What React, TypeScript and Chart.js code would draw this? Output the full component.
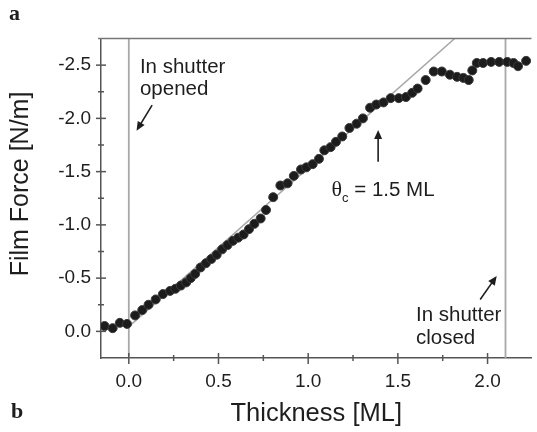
import React, { useEffect, useRef } from "react";
import { Chart, registerables } from "chart.js";

Chart.register(...registerables);

// ---- data ----
const thicknessML = [
  -0.135, -0.09, -0.05, -0.01, 0.035, 0.075, 0.11, 0.15, 0.19, 0.23, 0.26, 0.29,
  0.32, 0.345, 0.37, 0.4, 0.43, 0.46, 0.49, 0.52, 0.55, 0.58, 0.61, 0.64, 0.67,
  0.7, 0.735, 0.765, 0.805, 0.845, 0.885, 0.92, 0.96, 0.99, 1.025, 1.06, 1.09,
  1.125, 1.155, 1.19, 1.23, 1.27, 1.305, 1.345, 1.38, 1.42, 1.46, 1.505, 1.545,
  1.58, 1.61, 1.655, 1.7, 1.745, 1.79, 1.83, 1.865, 1.895, 1.915, 1.94, 1.975,
  2.02, 2.065, 2.11, 2.145, 2.17, 2.215,
];
const filmForce = [
  -0.05, -0.03, -0.08, -0.07, -0.15, -0.2, -0.25, -0.3, -0.35, -0.38, -0.4, -0.43,
  -0.46, -0.5, -0.54, -0.6, -0.64, -0.68, -0.72, -0.77, -0.81, -0.85, -0.88, -0.91,
  -0.96, -1.01, -1.06, -1.14, -1.26, -1.37, -1.39, -1.46, -1.52, -1.54, -1.57,
  -1.62, -1.7, -1.73, -1.78, -1.83, -1.91, -1.95, -2.0, -2.1, -2.13, -2.15, -2.19,
  -2.19, -2.2, -2.24, -2.28, -2.36, -2.44, -2.44, -2.41, -2.39, -2.38, -2.36,
  -2.45, -2.52, -2.52, -2.53, -2.53, -2.53, -2.52, -2.49, -2.54,
];
const fitX = [0, 1.83];
const fitY = [-0.045, -2.77];
const shutterOpenX = 0;
const shutterCloseX = 2.1;

const xRange = [-0.155, 2.245];
const yRange = [-2.75, 0.25];
const xTicks = [0, 0.5, 1.0, 1.5, 2.0];
const xMinorTicks = [0.25, 0.75, 1.25, 1.75];
const yTicks = [0, -0.5, -1.0, -1.5, -2.0, -2.5];
const yMinorTicks = [-0.25, -0.75, -1.25, -1.75, -2.25];

const xTitle = "Thickness [ML]";
const yTitle = "Film Force [N/m]";

// annotation anchors in data units
const openedText = { x: 0.062, y1: -2.43, y2: -2.215, l1: "In shutter", l2: "opened" };
const openedArrow = { x0: 0.13, y0: -2.125, x1: 0.043, y1: -1.884 };
const closedText = { x: 1.601, y1: -0.1, y2: 0.118, l1: "In shutter", l2: "closed" };
const closedArrow = { x0: 1.959, y0: -0.3, x1: 2.051, y1: -0.52 };
const thetaText = { x: 1.13, y: -1.27 };
const thetaArrow = { x0: 1.39, y0: -1.593, x1: 1.39, y1: -1.891 };

const SANS = "'Liberation Sans', Arial, Helvetica, sans-serif";
const SERIF = "'Liberation Serif', 'Times New Roman', serif";
const TEXT = "#1e1e1e";
const AXIS = "#555555";
const GRAYLINE = "#a8a8a8";

function drawArrow(ctx: CanvasRenderingContext2D, x0: number, y0: number, x1: number, y1: number) {
  const ang = Math.atan2(y1 - y0, x1 - x0);
  const head = 9;
  const half = 4;
  ctx.beginPath();
  ctx.moveTo(x0, y0);
  ctx.lineTo(x1 - Math.cos(ang) * head * 0.8, y1 - Math.sin(ang) * head * 0.8);
  ctx.stroke();
  ctx.beginPath();
  ctx.moveTo(x1, y1);
  ctx.lineTo(
    x1 - Math.cos(ang) * head + Math.cos(ang + Math.PI / 2) * half,
    y1 - Math.sin(ang) * head + Math.sin(ang + Math.PI / 2) * half
  );
  ctx.lineTo(
    x1 - Math.cos(ang) * head - Math.cos(ang + Math.PI / 2) * half,
    y1 - Math.sin(ang) * head - Math.sin(ang + Math.PI / 2) * half
  );
  ctx.closePath();
  ctx.fill();
}

const decorPlugin = {
  id: "decor",
  afterDraw(chart: any) {
    const { ctx, chartArea } = chart;
    const xs = chart.scales.x;
    const ys = chart.scales.y;
    const X = (v: number) => xs.getPixelForValue(v);
    const Y = (v: number) => ys.getPixelForValue(v);
    ctx.save();
    // top frame line
    ctx.strokeStyle = "#777777";
    ctx.lineWidth = 1.5;
    ctx.beginPath();
    ctx.moveTo(chartArea.left - 3, chartArea.top);
    ctx.lineTo(chartArea.right, chartArea.top);
    ctx.stroke();
    // crossing ticks
    ctx.strokeStyle = AXIS;
    ctx.lineWidth = 1.5;
    const b = chartArea.bottom;
    const l = chartArea.left;
    xTicks.forEach((v) => {
      const p = X(v);
      ctx.beginPath();
      ctx.moveTo(p, b - 5);
      ctx.lineTo(p, b + 6);
      ctx.stroke();
    });
    xMinorTicks.forEach((v) => {
      const p = X(v);
      ctx.beginPath();
      ctx.moveTo(p, b - 3);
      ctx.lineTo(p, b + 3);
      ctx.stroke();
    });
    yTicks.forEach((v) => {
      const p = Y(v);
      ctx.beginPath();
      ctx.moveTo(l - 5, p);
      ctx.lineTo(l + 5, p);
      ctx.stroke();
    });
    yMinorTicks.forEach((v) => {
      const p = Y(v);
      ctx.beginPath();
      ctx.moveTo(l - 3, p);
      ctx.lineTo(l + 3, p);
      ctx.stroke();
    });

    // y axis title
    ctx.fillStyle = TEXT;
    ctx.save();
    ctx.translate(27.5, 184);
    ctx.rotate(-Math.PI / 2);
    ctx.textAlign = "center";
    ctx.textBaseline = "alphabetic";
    ctx.font = `25px ${SANS}`;
    ctx.fillText(yTitle, 0, 0);
    ctx.restore();

    // annotations
    ctx.fillStyle = TEXT;
    ctx.strokeStyle = TEXT;
    ctx.lineWidth = 1.6;
    ctx.textBaseline = "alphabetic";
    ctx.textAlign = "left";
    ctx.font = `20.5px ${SANS}`;
    ctx.fillText(openedText.l1, X(openedText.x), Y(openedText.y1));
    ctx.fillText(openedText.l2, X(openedText.x), Y(openedText.y2));
    ctx.fillText(closedText.l1, X(closedText.x), Y(closedText.y1));
    ctx.fillText(closedText.l2, X(closedText.x), Y(closedText.y2));
    drawArrow(ctx, X(openedArrow.x0), Y(openedArrow.y0), X(openedArrow.x1), Y(openedArrow.y1));
    drawArrow(ctx, X(closedArrow.x0), Y(closedArrow.y0), X(closedArrow.x1), Y(closedArrow.y1));
    drawArrow(ctx, X(thetaArrow.x0), Y(thetaArrow.y0), X(thetaArrow.x1), Y(thetaArrow.y1));

    // theta_c = 1.5 ML
    let tx = X(thetaText.x);
    const ty = Y(thetaText.y);
    ctx.font = `22px ${SERIF}`;
    ctx.fillText("θ", tx, ty);
    tx += ctx.measureText("θ").width;
    ctx.font = `13px ${SANS}`;
    ctx.fillText("c", tx, ty + 6);
    tx += ctx.measureText("c").width;
    ctx.font = `20.5px ${SANS}`;
    ctx.fillText(" = 1.5 ML", tx, ty);

    // panel letters
    ctx.font = `bold 22px ${SERIF}`;
    ctx.fillText("a", 9, 20);
    ctx.fillText("b", 11, 418);
    ctx.restore();
  },
};

export default function App() {
  const ref = useRef<HTMLCanvasElement | null>(null);
  useEffect(() => {
    document.body.style.margin = "0";
    const canvas = ref.current;
    if (!canvas) return;
    const points = thicknessML.map((x, i) => ({ x, y: filmForce[i] }));
    const fit = fitX.map((x, i) => ({ x, y: fitY[i] }));
    const openLine = [
      { x: shutterOpenX, y: yRange[0] },
      { x: shutterOpenX, y: yRange[1] },
    ];
    const closeLine = [
      { x: shutterCloseX, y: yRange[0] },
      { x: shutterCloseX, y: yRange[1] },
    ];
    const chart = new Chart(canvas, {
      type: "scatter",
      data: {
        datasets: [
          {
            label: "Film force",
            data: points,
            backgroundColor: "#1c1c1c",
            borderColor: "#3a3a3a",
            borderWidth: 1,
            pointRadius: 4.5,
            order: 0,
          },
          {
            label: "fit",
            type: "line",
            data: fit,
            borderColor: GRAYLINE,
            borderWidth: 1.5,
            pointRadius: 0,
            showLine: true,
            order: 2,
          } as any,
          {
            label: "open",
            type: "line",
            data: openLine,
            borderColor: GRAYLINE,
            borderWidth: 1.8,
            pointRadius: 0,
            order: 3,
          } as any,
          {
            label: "close",
            type: "line",
            data: closeLine,
            borderColor: GRAYLINE,
            borderWidth: 1.8,
            pointRadius: 0,
            order: 3,
          } as any,
        ],
      },
      options: {
        responsive: false,
        animation: false,
        layout: { padding: { top: 38.5, right: 0, left: 0, bottom: 0 } },
        plugins: { legend: { display: false }, tooltip: { enabled: false } },
        scales: {
          x: {
            type: "linear",
            min: xRange[0],
            max: xRange[1],
            afterBuildTicks: (s: any) => {
              s.ticks = xTicks.map((v) => ({ value: v }));
            },
            afterFit: (s: any) => {
              s.height = 74;
            },
            grid: { display: false, drawTicks: false },
            border: { display: true, color: AXIS, width: 1.5 },
            ticks: {
              padding: 12,
              color: TEXT,
              font: { family: SANS, size: 19 },
              callback: (v: any) => Number(v).toFixed(1),
            },
            title: {
              display: true,
              text: xTitle,
              color: TEXT,
              font: { family: SANS, size: 25.5 },
              padding: { top: 0, bottom: 3 },
            },
          },
          y: {
            type: "linear",
            reverse: true,
            min: yRange[0],
            max: yRange[1],
            afterBuildTicks: (s: any) => {
              s.ticks = yTicks.map((v) => ({ value: v }));
            },
            afterFit: (s: any) => {
              s.width = 101;
            },
            grid: { display: false, drawTicks: false },
            border: { display: true, color: AXIS, width: 1.5 },
            ticks: {
              padding: 10,
              color: TEXT,
              font: { family: SANS, size: 19 },
              callback: (v: any) => Number(v).toFixed(1),
            },
            title: { display: false, text: yTitle },
          },
        },
      },
      plugins: [decorPlugin],
    } as any);
    return () => chart.destroy();
  }, []);
  return (
    <div style={{ position: "absolute", left: 0, top: 0, width: 537, height: 432, background: "#fff" }}>
      <canvas ref={ref} width={537} height={432} />
    </div>
  );
}
